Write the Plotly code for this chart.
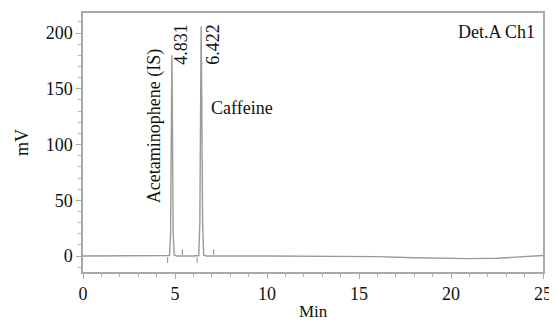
import plotly.graph_objects as go

# Chromatogram signal (time in min, signal in mV)
time_min = [0.0, 2.0, 4.5, 4.70, 4.76, 4.80, 4.831, 4.86, 4.90, 4.96, 5.1, 6.0,
            6.29, 6.35, 6.39, 6.422, 6.45, 6.50, 6.56, 6.7, 10.0, 14.0, 16.0,
            18.0, 19.5, 21.0, 22.5, 24.0, 25.0]
signal_mv = [0.0, 0.0, 0.0, 0.5, 20.0, 120.0, 180.0, 120.0, 20.0, 1.0, 0.0, 0.0,
             0.5, 30.0, 150.0, 206.0, 150.0, 30.0, 1.0, 0.0, 0.0, 0.0, -0.5,
             -1.5, -2.2, -2.3, -2.0, -0.8, 0.5]

# Integration event marks (start/end of peaks)
event_t = [4.6, 5.4, 6.2, 7.1]
event_lo = [-6.0, 1.0, -6.0, 1.0]
event_hi = [-1.0, 6.0, -1.0, 6.0]

x_ticks = [0, 5, 10, 15, 20, 25]
y_ticks = [0, 50, 100, 150, 200]

FONT = "Liberation Serif"

ex, ey = [], []
for t, lo, hi in zip(event_t, event_lo, event_hi):
    ex += [t, t, None]
    ey += [lo, hi, None]

fig = go.Figure()
fig.add_trace(go.Scatter(x=time_min, y=signal_mv, mode="lines",
                         line=dict(color="#9a9a9a", width=1.4), hoverinfo="skip"))
fig.add_trace(go.Scatter(x=ex, y=ey, mode="lines",
                         line=dict(color="#8a8a8a", width=1), hoverinfo="skip"))

# page body has an 8px default margin, so the figure is sized to fit the window
fig.update_layout(
    width=549, height=317,
    margin=dict(l=75, r=14, t=5, b=53),
    paper_bgcolor="white", plot_bgcolor="white",
    showlegend=False,
    font=dict(family=FONT, size=18, color="#111"),
    xaxis=dict(range=[0, 25], tickvals=x_ticks, showgrid=False, zeroline=False,
               automargin=False, ticklabeloverflow="allow",
               showline=True, linecolor="#a8a8a8", linewidth=1.5, mirror=True,
               ticks="outside", ticklen=5, tickcolor="#a8a8a8",
               minor=dict(dtick=1, ticks="outside", ticklen=3, tickcolor="#b0b0b0")),
    yaxis=dict(range=[-14.3, 218], tickvals=y_ticks, showgrid=False, zeroline=False,
               automargin=False, ticklabeloverflow="allow",
               showline=True, linecolor="#a8a8a8", linewidth=1.5, mirror=True,
               ticks="outside", ticklen=5, tickcolor="#a8a8a8",
               minor=dict(dtick=10, ticks="outside", ticklen=3, tickcolor="#b0b0b0"),
               title=dict(text="mV", standoff=12, font=dict(size=18))),
)

fig.add_annotation(x=0.5, y=-0.152, xref="paper", yref="paper", text="Min",
                   showarrow=False, yanchor="middle", font=dict(size=17))
fig.add_annotation(x=3.89, y=116, text="Acetaminophene (IS)", textangle=-90,
                   showarrow=False, font=dict(size=18))
fig.add_annotation(x=5.36, y=190, text="4.831", textangle=-90,
                   showarrow=False, font=dict(size=18))
fig.add_annotation(x=7.09, y=190, text="6.422", textangle=-90,
                   showarrow=False, font=dict(size=18))
fig.add_annotation(x=6.85, y=133, text="Caffeine", xanchor="left",
                   showarrow=False, font=dict(size=18))
fig.add_annotation(x=24.65, y=201, text="Det.A Ch1", xanchor="right",
                   showarrow=False, font=dict(size=18))

fig.write_html("out.html")
